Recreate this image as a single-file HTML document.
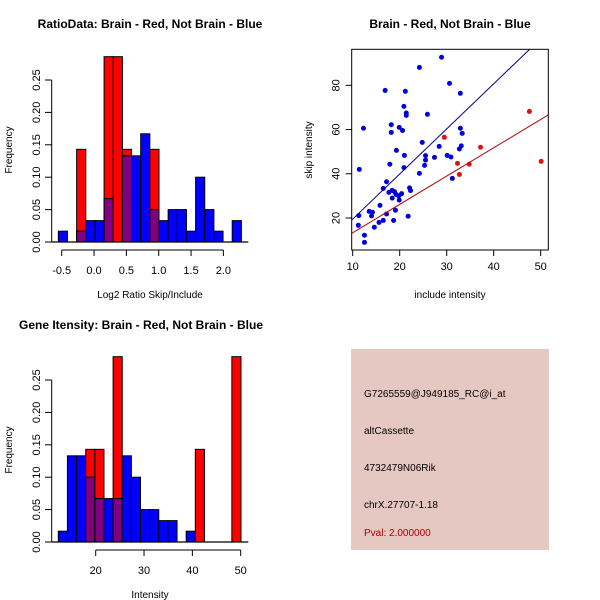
<!DOCTYPE html>
<html><head><meta charset="utf-8"><style>
body{margin:0;background:#fff}
svg{display:block;font-family:"Liberation Sans",sans-serif}
</style></head><body>
<svg id="c" width="600" height="600" viewBox="0 0 600 600">
<rect width="600" height="600" fill="#fff"/>
<text x="150" y="28" text-anchor="middle" font-size="12" font-weight="bold">RatioData: Brain - Red, Not Brain - Blue</text>
<text x="450" y="28" text-anchor="middle" font-size="12" font-weight="bold">Brain - Red, Not Brain - Blue</text>
<text x="141" y="329" text-anchor="middle" font-size="12" font-weight="bold">Gene Itensity: Brain - Red, Not Brain - Blue</text>
<text x="150" y="298" text-anchor="middle" font-size="10">Log2 Ratio Skip/Include</text>
<text x="450" y="298" text-anchor="middle" font-size="10">include intensity</text>
<text x="150" y="598" text-anchor="middle" font-size="10">Intensity</text>
<text transform="translate(12,150) rotate(-90)" text-anchor="middle" font-size="10">Frequency</text>
<text transform="translate(312,150) rotate(-90)" text-anchor="middle" font-size="10">skip intensity</text>
<text transform="translate(12,450) rotate(-90)" text-anchor="middle" font-size="10">Frequency</text>
<g id="g1"></g>
<g id="g2"></g>
<g id="g3"></g>
<g>
<rect x="351" y="349" width="198" height="201" fill="#e6c8c2"/>
<text x="364" y="397" font-size="10">G7265559@J949185_RC@i_at</text>
<text x="364" y="434" font-size="10">altCassette</text>
<text x="364" y="471" font-size="10">4732479N06Rik</text>
<text x="364" y="508" font-size="10">chrX.27707-1.18</text>
<text x="364" y="536" font-size="10" fill="#b00000">Pval: 2.000000</text>
</g>
</svg>
<script>
// Ratio histogram data
const ratioBinStart = -0.552;
const ratioBinWidth = 0.1415;
const ratioBlue = [0.0167,0,0.0167,0.033,0.033,0.067,0,0.133,0.133,0.167,0.05,0.033,0.05,0.05,0.0167,0.1,0.05,0.0167,0,0.033];
const ratioRed  = [0,0,0.143,0,0,0.286,0.286,0.143,0,0,0.143,0,0,0,0,0,0,0,0,0];
const ratioXTicks = [-0.5,0.0,0.5,1.0,1.5,2.0];
const ratioXLabels = ["-0.5","0.0","0.5","1.0","1.5","2.0"];
const freqTicks = [0,0.05,0.10,0.15,0.20,0.25];
const freqLabels = ["0.00","0.05","0.10","0.15","0.20","0.25"];
// Intensity histogram data
const intBinStart = 12.26;
const intBinWidth = 1.89;
const intBlue = [0.0167,0.133,0.133,0.1,0.067,0.067,0.067,0.133,0.1,0.05,0.05,0.033,0.033,0,0.0167,0,0,0,0,0];
const intRed  = [0,0,0,0.143,0.143,0,0.286,0,0,0,0,0,0,0,0,0.143,0,0,0,0.286];
const intXTicks = [20,30,40,50];
// Scatter data
const blueX = [11.4,12.3,11.3,11.2,12.5,12.5,13.5,14.0,14.2,14.6,15.8,15.6,16.5,16.5,16.9,17.2,17.2,17.7,17.9,18.2,18.2,18.4,18.4,18.7,18.9,19.1,19.3,19.2,19.8,19.9,19.9,20.4,20.6,20.9,20.9,21.0,21.2,21.4,21.4,21.8,22.1,22.3,24.2,24.2,24.8,25.5,25.5,25.3,25.9,27.4,28.4,28.9,30.1,30.6,30.9,31.2,32.7,32.9,32.9,33.1,33.3];
const blueY = [42.0,60.6,21.1,16.7,12.2,9.0,23.0,20.9,22.6,15.8,25.7,18.0,18.9,33.4,77.7,36.4,21.8,31.6,44.3,62.2,58.7,32.5,29.0,18.9,31.9,23.5,50.6,30.7,30.0,61.0,28.1,31.0,59.6,42.8,70.5,48.3,77.3,67.5,66.4,20.8,33.6,32.4,88.1,40.2,54.2,48.2,46.2,43.8,66.9,47.4,52.4,92.7,48.3,80.9,47.6,37.9,51.2,76.4,60.6,52.6,58.3];
const redX = [29.5,32.3,32.7,34.8,37.2,47.6,50.1];
const redY = [56.5,44.7,39.7,44.3,52.0,68.2,45.6];
const blueFit = [-0.9,2.04];
const redFit = [0.56,1.28];
const scatXTicks = [10,20,30,40,50];
const scatYTicks = [20,40,60,80];

const NS="http://www.w3.org/2000/svg";
function mk(parent,tag,attrs){const e=document.createElementNS(NS,tag);for(const k in attrs)e.setAttribute(k,attrs[k]);parent.appendChild(e);return e;}

function hist(g,y0,binStart,binW,xs,blue,red,xTicks,xLabels){
  const sx=xs, sy=v=>y0-v*648;
  let ax=mk(g,'line',{x1:51.7,x2:51.7,y1:sy(0),y2:sy(0.25),stroke:'#000'});
  
  
  freqTicks.forEach((t,i)=>{
    let l=mk(g,'line',{x1:45,x2:51.7,y1:sy(t),y2:sy(t),stroke:'#000'});
    
    
    let tx=mk(g,'text',{transform:`translate(40,${sy(t)}) rotate(-90)`,'text-anchor':'middle','font-size':'11'});
    
    
    tx.textContent=freqLabels[i];
  });
  const n=blue.length;
  for(let i=0;i<n;i++){
    const x1=sx(binStart+i*binW), x2=sx(binStart+(i+1)*binW);
    if(red[i]>0){let r=mk(g,'rect',{x:x1,y:sy(red[i]),width:x2-x1,height:sy(0)-sy(red[i]),fill:'#ff0000',stroke:'#000','stroke-width':1});
      
      }
    if(blue[i]>0){let b=mk(g,'rect',{x:x1,y:sy(blue[i]),width:x2-x1,height:sy(0)-sy(blue[i]),fill:'#0000ff',stroke:'#000','stroke-width':1});
      
      }
    const m=Math.min(red[i],blue[i]);
    if(m>0){let p=mk(g,'rect',{x:x1,y:sy(m),width:x2-x1,height:sy(0)-sy(m),fill:'#800080',stroke:'#000','stroke-width':1});
      
      }
  }
  let base=mk(g,'line',{x1:51.7,x2:248.3,y1:sy(0),y2:sy(0),stroke:'#000','stroke-width':1.2});
  
  
  const ya=y0+8;
  let xa=mk(g,'line',{x1:sx(xTicks[0]),x2:sx(xTicks[xTicks.length-1]),y1:ya,y2:ya,stroke:'#000'});
  
  
  xTicks.forEach((t,i)=>{
    let l=mk(g,'line',{x1:sx(t),x2:sx(t),y1:ya,y2:ya+6,stroke:'#000'});
    
    
    let tx=mk(g,'text',{x:sx(t),y:ya+24,'text-anchor':'middle','font-size':'11'});
    
    
    tx.textContent=xLabels[i];
  });
}
hist(document.getElementById('g1'),242,ratioBinStart,ratioBinWidth,v=>61.7+(v+0.5)*64.67,ratioBlue,ratioRed,ratioXTicks,ratioXLabels);
hist(document.getElementById('g3'),542,intBinStart,intBinWidth,v=>95.7+(v-20)*4.833,intBlue,intRed,intXTicks,intXTicks.map(String));

(function(){
  const g=document.getElementById('g2');
  const sx=v=>352.7+(v-10)*4.7, sy=v=>218-(v-20)*2.211;
  const L=351.7,R=548.3,T=49.3,B=250;
  let box=mk(g,'rect',{x:L,y:T,width:R-L,height:B-T,fill:'none',stroke:'#000'});
  
  
  scatXTicks.forEach(t=>{
    let l=mk(g,'line',{x1:sx(t),x2:sx(t),y1:B,y2:B+6,stroke:'#000'});
    
    
    let tx=mk(g,'text',{x:sx(t),y:B+20,'text-anchor':'middle','font-size':'11'});
    
    
    tx.textContent=t;
  });
  scatYTicks.forEach(t=>{
    let l=mk(g,'line',{x1:L-6,x2:L,y1:sy(t),y2:sy(t),stroke:'#000'});
    
    
    let tx=mk(g,'text',{transform:`translate(${L-12},${sy(t)}) rotate(-90)`,'text-anchor':'middle','font-size':'11'});
    
    
    tx.textContent=t;
  });
  const cp=mk(document.getElementById('c'),'clipPath',{id:'clp'});
  mk(cp,'rect',{x:L,y:T,width:R-L,height:B-T});
  function line(fit,col,name){
    const xa=(L-352.7)/4.7+10, xb=(R-352.7)/4.7+10;
    let l=mk(g,'line',{x1:sx(xa),y1:sy(fit[0]+fit[1]*xa),x2:sx(xb),y2:sy(fit[0]+fit[1]*xb),stroke:col,'clip-path':'url(#clp)'});
    
    
  }
  blueX.forEach((x,i)=>{let c=mk(g,'circle',{cx:sx(x),cy:sy(blueY[i]),r:2.5,fill:'#0000dd'});
    
    });
  redX.forEach((x,i)=>{let c=mk(g,'circle',{cx:sx(x),cy:sy(redY[i]),r:2.5,fill:'#dd1111'});
    
    });
  line(blueFit,'#000080','blue-fit-line');
  line(redFit,'#b00000','red-fit-line');
})();
</script>
</body></html>
